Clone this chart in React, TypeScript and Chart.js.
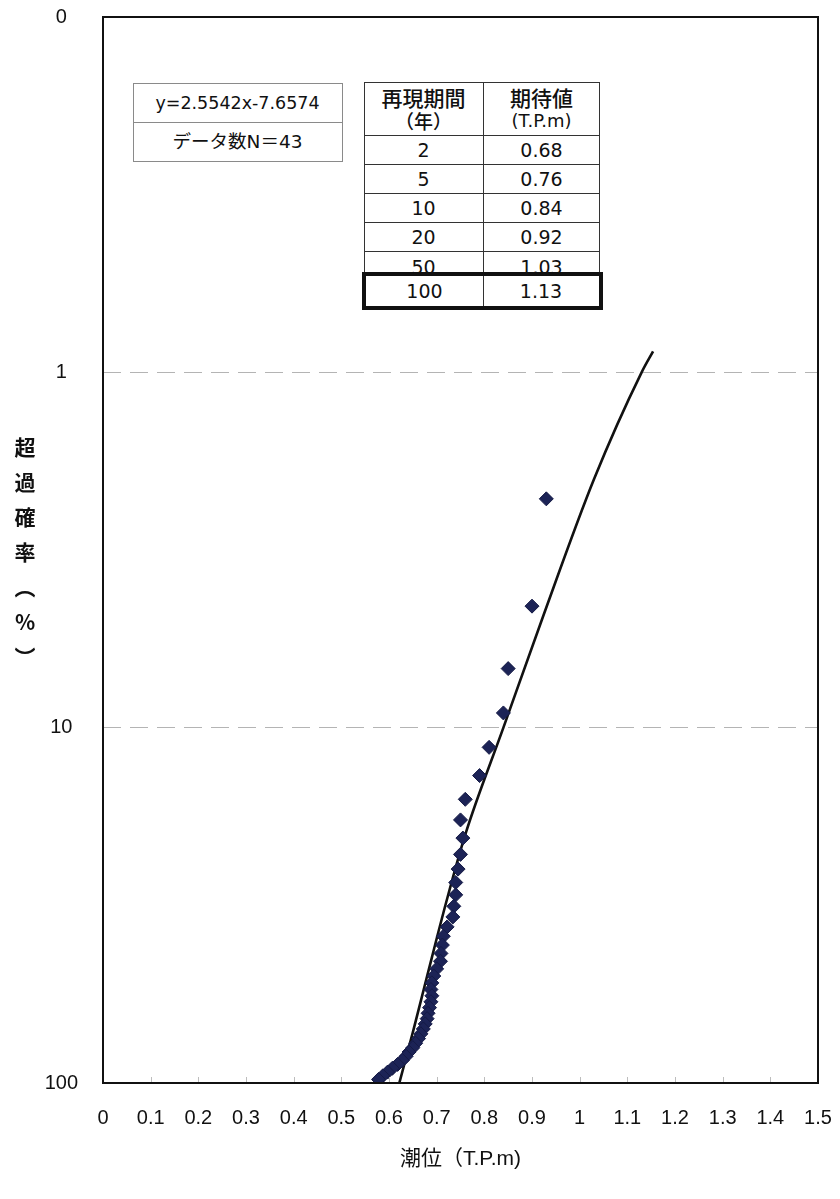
import React, { useEffect, useRef } from 'react';
import { Chart, registerables } from 'chart.js';

Chart.register(...registerables);

// ---------- data ----------
const xTickValues = [0, 0.1, 0.2, 0.3, 0.4, 0.5, 0.6, 0.7, 0.8, 0.9, 1, 1.1, 1.2, 1.3, 1.4, 1.5];
const yTickValues = [0.1, 1, 10, 100];
const yGridValues = [1, 10];

// observed annual maxima (tide level T.P.m) and plotting-position exceedance probability (%)
const obsLevel = [
  0.93, 0.9, 0.85, 0.84, 0.81, 0.79, 0.76, 0.75, 0.755, 0.75,
  0.745, 0.74, 0.74, 0.736, 0.734, 0.722, 0.714, 0.712, 0.709, 0.708,
  0.7, 0.694, 0.69, 0.688, 0.69, 0.688, 0.685, 0.682, 0.68, 0.676,
  0.672, 0.667, 0.662, 0.656, 0.65, 0.642, 0.636, 0.628, 0.618, 0.607,
  0.597, 0.587, 0.578,
];
const obsExceed = [
  2.27, 4.55, 6.82, 9.09, 11.36, 13.64, 15.91, 18.18, 20.45, 22.73,
  25.0, 27.27, 29.55, 31.82, 34.09, 36.36, 38.64, 40.91, 43.18, 45.45,
  47.73, 50.0, 52.27, 54.55, 56.82, 59.09, 61.36, 63.64, 65.91, 68.18,
  70.45, 72.73, 75.0, 77.27, 79.55, 81.82, 84.09, 86.36, 88.64, 90.91,
  93.18, 95.45, 97.73,
];

// fitted curve
const fitLevel = [0.622, 0.65, 0.68, 0.72, 0.76, 0.84, 0.92, 1.03, 1.13, 1.154];
const fitExceed = [99.6, 72, 50, 31, 20, 10, 5, 2, 1, 0.873];

const equationLabel = 'y=2.5542x-7.6574';
const countLabel = 'データ数N＝43';
const tableHead1 = ['再現期間', '（年）'];
const tableHead2 = ['期待値', '(T.P.m)'];
const returnPeriods = ['2', '5', '10', '20', '50', '100'];
const expectedLevels = ['0.68', '0.76', '0.84', '0.92', '1.03', '1.13'];
const xTitle = '潮位（T.P.m)';
const yTitle = '超過確率（%）';

// ---------- layout ----------
const W = 840;
const H = 1199;
const TICKFONT = "'Liberation Sans Narrow', 'Liberation Sans', 'Noto Sans CJK JP', sans-serif";
const FONT = "'Liberation Sans', 'Noto Sans CJK JP', sans-serif";
const BOXFONT = "'DejaVu Sans', 'Noto Sans CJK JP', sans-serif";

const framePlugin = {
  id: 'frameAndTicks',
  afterDraw(chart: any) {
    const { ctx, chartArea } = chart;
    const xs = chart.scales.x;
    ctx.save();
    ctx.strokeStyle = '#bdbdbd';
    ctx.lineWidth = 1;
    xTickValues.slice(1, -1).forEach((v) => {
      const px = Math.round(xs.getPixelForValue(v)) + 0.5;
      ctx.beginPath();
      ctx.moveTo(px, chartArea.bottom);
      ctx.lineTo(px, chartArea.bottom - 6);
      ctx.stroke();
    });
    ctx.strokeStyle = '#111';
    ctx.lineWidth = 2;
    ctx.strokeRect(chartArea.left, chartArea.top, chartArea.right - chartArea.left, chartArea.bottom - chartArea.top);
    ctx.restore();
  },
};

function fmtX(v: number) {
  return String(parseFloat(Number(v).toFixed(1)));
}

function zeroPad(s: any) {
  s.paddingTop = 0;
  s.paddingBottom = 0;
  s.paddingLeft = 0;
  s.paddingRight = 0;
}

export default function App() {
  const canvasRef = useRef<HTMLCanvasElement | null>(null);

  useEffect(() => {
    if (!canvasRef.current) return;
    const chart = new Chart(canvasRef.current, {
      type: 'scatter',
      data: {
        datasets: [
          {
            label: 'fit',
            type: 'line',
            data: fitLevel.map((x, i) => ({ x, y: fitExceed[i] })),
            borderColor: '#111',
            borderWidth: 2.6,
            pointRadius: 0,
            fill: false,
            cubicInterpolationMode: 'monotone',
            order: 2,
          } as any,
          {
            label: 'obs',
            data: obsLevel.map((x, i) => ({ x, y: obsExceed[i] })),
            pointStyle: 'rectRot',
            pointRadius: 7,
            backgroundColor: '#1c2356',
            borderColor: '#151a45',
            borderWidth: 1,
            showLine: false,
            order: 1,
          } as any,
        ],
      },
      options: {
        responsive: false,
        animation: false,
        devicePixelRatio: 1,
        layout: { padding: { top: 17, right: 22, left: 0, bottom: 0 } },
        plugins: { legend: { display: false }, tooltip: { enabled: false } },
        scales: {
          x: {
            type: 'linear',
            min: 0,
            max: 1.5,
            position: 'bottom',
            afterBuildTicks: (s: any) => {
              s.ticks = xTickValues.map((v) => ({ value: v }));
            },
            afterFit: (s: any) => {
              s.height = 116;
              zeroPad(s);
            },
            grid: { display: false, drawTicks: false },
            border: { display: false },
            ticks: {
              padding: 23,
              color: '#111',
              autoSkip: false,
              maxRotation: 0,
              font: { size: 20, family: TICKFONT },
              callback: (v: any) => fmtX(v),
            },
            title: {
              display: true,
              text: xTitle,
              color: '#111',
              font: { size: 21, family: FONT },
              padding: { top: 0, bottom: 27 },
            },
          },
          y: {
            type: 'logarithmic',
            min: 0.1,
            max: 100,
            reverse: true,
            afterBuildTicks: (s: any) => {
              s.ticks = yTickValues.map((v) => ({ value: v }));
            },
            afterFit: (s: any) => {
              s.width = 103;
              zeroPad(s);
            },
            grid: {
              drawTicks: false,
              lineWidth: 1,
              color: (c: any) =>
                c.tick && yGridValues.includes(c.tick.value) ? '#b4b4b4' : 'rgba(0,0,0,0)',
            },
            border: { display: false, dash: [18, 9] },
            ticks: {
              padding: 25,
              crossAlign: 'center',
              color: '#111',
              autoSkip: false,
              font: { size: 20, family: TICKFONT },
              callback: (v: any) => (Number(v) < 1 ? '0' : String(v)),
            },
          },
        },
      } as any,
      plugins: [framePlugin],
    });
    return () => chart.destroy();
  }, []);

  // table geometry
  const tLeft = 364;
  const tMid = 483;
  const tRight = 600;
  const rowEdges = [82, 135, 164, 193, 222, 251, 281];
  const line = '1.5px solid #333';

  const cellText = (text: string, left: number, width: number, top: number, height: number, extra: any = {}) => (
    <div
      key={text + left + top}
      style={{
        position: 'absolute',
        left,
        top,
        width,
        height,
        lineHeight: height + 'px',
        textAlign: 'center',
        fontFamily: BOXFONT,
        fontSize: 19,
        color: '#111',
        whiteSpace: 'nowrap',
        overflow: 'hidden',
        ...extra,
      }}
    >
      {text}
    </div>
  );

  return (
    <div style={{ position: 'absolute', left: 0, top: 0, width: W, height: H, background: '#fff', overflow: 'hidden' }}>
      <canvas ref={canvasRef} width={W} height={H} style={{ position: 'absolute', left: 0, top: 0, width: W, height: H }} />

      {/* y axis title */}
      <div
        style={{
          position: 'absolute',
          left: 14,
          top: 437,
          writingMode: 'vertical-rl',
          textOrientation: 'upright',
          fontFamily: "'Noto Sans CJK JP', sans-serif",
          fontWeight: 700,
          fontSize: 21,
          letterSpacing: 14,
          lineHeight: '22px',
          color: '#111',
        }}
      >
        {yTitle}
      </div>

      {/* equation box */}
      <div
        style={{
          position: 'absolute',
          left: 133,
          top: 83,
          width: 210,
          height: 79,
          border: '1.5px solid #8a8a8a',
          boxSizing: 'border-box',
          background: '#fff',
        }}
      >
        <div style={{ position: 'absolute', left: 0, top: 38, width: '100%', borderTop: '1.5px solid #8a8a8a' }} />
        {cellText(equationLabel, 0, 207, 0, 38, { fontSize: 17.5 })}
        {cellText(countLabel, 0, 207, 39, 38, { fontSize: 18.5 })}
      </div>

      {/* return period table */}
      <div
        style={{
          position: 'absolute',
          left: tLeft,
          top: rowEdges[0],
          width: tRight - tLeft,
          height: rowEdges[rowEdges.length - 1] - rowEdges[0],
          border: line,
          boxSizing: 'border-box',
          background: '#fff',
        }}
      />
      <div
        style={{
          position: 'absolute',
          left: tMid,
          top: rowEdges[0],
          height: rowEdges[rowEdges.length - 1] - rowEdges[0],
          borderLeft: line,
        }}
      />
      {rowEdges.slice(1, -1).map((y) => (
        <div key={'h' + y} style={{ position: 'absolute', left: tLeft, top: y, width: tRight - tLeft, borderTop: line }} />
      ))}
      {cellText(tableHead1[0], tLeft, tMid - tLeft, 84, 26, { fontWeight: 500, fontSize: 21, fontFamily: "'Noto Sans CJK JP', sans-serif" })}
      {cellText(tableHead1[1], tLeft, tMid - tLeft, 108, 26, { fontWeight: 500, fontSize: 19, fontFamily: "'Noto Sans CJK JP', sans-serif" })}
      {cellText(tableHead2[0], tMid, tRight - tMid, 84, 26, { fontWeight: 500, fontSize: 21, fontFamily: "'Noto Sans CJK JP', sans-serif" })}
      {cellText(tableHead2[1], tMid, tRight - tMid, 108, 26, { fontSize: 18 })}
      {returnPeriods.slice(0, 5).map((p, i) => cellText(p, tLeft, tMid - tLeft, rowEdges[i + 1] + 1, rowEdges[i + 2] - rowEdges[i + 1]))}
      {expectedLevels.slice(0, 5).map((p, i) => cellText(p, tMid, tRight - tMid, rowEdges[i + 1] + 1, rowEdges[i + 2] - rowEdges[i + 1]))}

      {/* highlighted 100-year row */}
      <div
        style={{
          position: 'absolute',
          left: 362,
          top: 272,
          width: 241,
          height: 38,
          border: '4px solid #111',
          boxSizing: 'border-box',
          background: '#fff',
        }}
      >
        <div style={{ position: 'absolute', left: tMid - 366, top: 0, height: 30, borderLeft: line }} />
        {cellText(returnPeriods[5], 0, tMid - 366, 0, 30)}
        {cellText(expectedLevels[5], tMid - 366, 603 - tMid - 4, 0, 30)}
      </div>
    </div>
  );
}
